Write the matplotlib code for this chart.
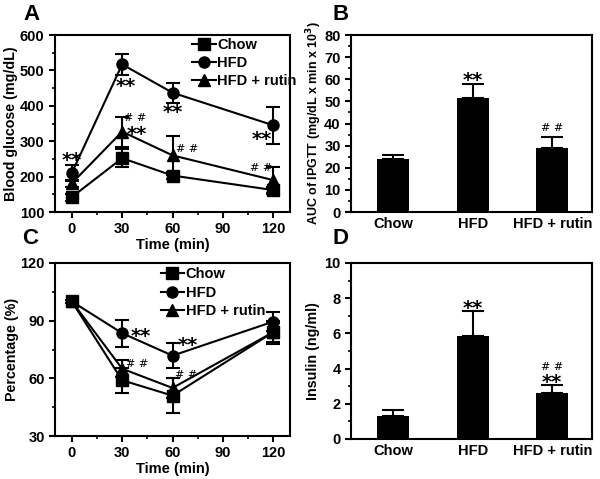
import numpy as np
import matplotlib
matplotlib.use('Agg')
import matplotlib.pyplot as plt
from matplotlib.ticker import MultipleLocator
from matplotlib.lines import Line2D

plt.rcParams['font.family'] = ['Liberation Sans', 'DejaVu Sans']
plt.rcParams['font.weight'] = 'bold'
plt.rcParams['axes.labelweight'] = 'bold'
plt.rcParams['axes.linewidth'] = 1.5

# time course data
time = [0, 30, 60, 120]
groups = ['Chow', 'HFD', 'HFD + rutin']
markers = ['s', 'o', '^']

# A: IPGTT blood glucose (mg/dL)
gtt_chow = [142, 252, 203, 162]
gtt_chow_err = [10, 26, 10, 10]
gtt_hfd = [210, 517, 437, 345]
gtt_hfd_err = [22, 30, 28, 52]
gtt_rut = [181, 327, 260, 190]
gtt_rut_err = [10, 42, 55, 36]

# B: AUC of IPGTT
auc = [23.8, 51.5, 29.0]
auc_err = [1.8, 6.3, 5.0]

# C: ITT percentage
itt_chow = [100, 59, 51, 84]
itt_chow_err = [1, 6.5, 9, 6]
itt_hfd = [100, 83.5, 71.8, 89.5]
itt_hfd_err = [1, 7, 6.5, 5]
itt_rut = [100, 65, 55, 84]
itt_rut_err = [1, 4.5, 5, 5]

# D: insulin (ng/ml)
ins = [1.28, 5.85, 2.6]
ins_err = [0.35, 1.4, 0.45]

fig = plt.figure(figsize=(6.0, 4.79), dpi=100)
W, H = 600.0, 479.0

def mkax(l, t, r, b):
  return fig.add_axes([l / W, 1 - b / H, (r - l) / W, (b - t) / H])

axA = mkax(55, 35, 290, 212)
axB = mkax(351, 35, 592, 212)
axC = mkax(55, 263, 290, 436)
axD = mkax(351, 263, 592, 439)

def style(ax):
  ax.tick_params(which='both', direction='out', top=False, right=False, labelsize=10.5)
  ax.tick_params(which='major', length=4, width=1.5)
  ax.tick_params(which='minor', length=2.5, width=1.2)
  for lab in ax.get_xticklabels() + ax.get_yticklabels():
    lab.set_fontweight('bold')

def lines(ax, ys, es, anchor):
  for y, e, m in zip(ys, es, markers):
    ax.errorbar(time, y, yerr=e, marker=m, color='black', markersize=8,
                linewidth=1.5, elinewidth=1.5, capsize=5, capthick=1.5)
  ax.set_xlim(-10, 130)
  ax.set_xticks([0, 30, 60, 90, 120])
  ax.xaxis.set_minor_locator(MultipleLocator(15))
  ax.set_xlabel('Time (min)', fontsize=10.5, labelpad=1)
  handles = [Line2D([], [], color='black', marker=m, markersize=8, linewidth=1.5)
             for m in markers]
  leg = ax.legend(handles, groups, loc='upper left', bbox_to_anchor=anchor,
                  frameon=False, fontsize=10.5, handlelength=1.6, handletextpad=0.1,
                  borderaxespad=0, borderpad=0, labelspacing=0.3)
  for t in leg.get_texts():
    t.set_fontweight('bold')

star = dict(fontsize=14, fontweight='bold', ha='center', va='center',
            family='DejaVu Sans', textcoords='offset points', xytext=(0, -3))
hash_ = dict(fontsize=8, fontweight='normal', ha='center', va='center',
             family='DejaVu Serif')

def stars(ax, x, y):
  ax.annotate('**', (x, y), **star)

# Panel A
lines(axA, [gtt_chow, gtt_hfd, gtt_rut], [gtt_chow_err, gtt_hfd_err, gtt_rut_err],
      (0.585, 0.985))
axA.set_ylim(100, 600)
axA.yaxis.set_major_locator(MultipleLocator(100))
axA.yaxis.set_minor_locator(MultipleLocator(50))
axA.set_ylabel('Blood glucose (mg/dL)', fontsize=10.3, labelpad=1)
style(axA)
stars(axA, 0, 258)
stars(axA, 32, 467)
stars(axA, 60, 393)
stars(axA, 113, 317)
stars(axA, 39, 331)
axA.text(38, 365, '# #', **hash_)
axA.text(68.5, 277, '# #', **hash_)
axA.text(113, 223, '# #', **hash_)

def bars(ax, vals, errs):
  x = np.arange(1, 4)
  ax.bar(x, vals, width=0.4, color='black')
  ax.errorbar(x, vals, yerr=[np.zeros(3), errs], fmt='none', ecolor='black',
              elinewidth=1.5, capsize=8, capthick=1.5)
  ax.set_xlim(0.47, 3.5)
  ax.set_xticks(x)
  ax.set_xticklabels(groups)

# Panel B
bars(axB, auc, auc_err)
axB.set_ylim(0, 80)
axB.yaxis.set_major_locator(MultipleLocator(10))
axB.yaxis.set_minor_locator(MultipleLocator(5))
axB.set_ylabel('AUC of IPGTT (mg/dL x min x 10$^\\mathbf{3}$)', fontsize=9, labelpad=0)
style(axB)
axB.tick_params(axis='x', which='both', length=0)
stars(axB, 2, 61.5)
axB.text(3, 38, '# #', **hash_)

# Panel C
lines(axC, [itt_chow, itt_hfd, itt_rut], [itt_chow_err, itt_hfd_err, itt_rut_err],
      (0.45, 0.975))
axC.set_ylim(30, 120)
axC.yaxis.set_major_locator(MultipleLocator(30))
axC.yaxis.set_minor_locator(MultipleLocator(15))
axC.set_ylabel('Percentage (%)', fontsize=10.3, labelpad=1)
style(axC)
stars(axC, 41, 84)
stars(axC, 69, 79.3)
axC.text(39, 67.4, '# #', **hash_)
axC.text(68, 61.9, '# #', **hash_)

# Panel D
bars(axD, ins, ins_err)
axD.set_ylim(0, 10)
axD.yaxis.set_major_locator(MultipleLocator(2))
axD.yaxis.set_minor_locator(MultipleLocator(1))
axD.set_ylabel('Insulin (ng/ml)', fontsize=10.3, labelpad=3)
style(axD)
axD.tick_params(axis='x', which='both', length=0)
stars(axD, 2, 7.63)
stars(axD, 3, 3.45)
axD.text(3, 4.1, '# #', **hash_)

for lab, x, y in [('A', 23, 15), ('B', 332, 15), ('C', 22, 238), ('D', 332, 238)]:
  fig.text(x / W, 1 - y / H, lab, fontsize=16, fontweight='bold', va='center')

fig.savefig('out.png', dpi=100)
